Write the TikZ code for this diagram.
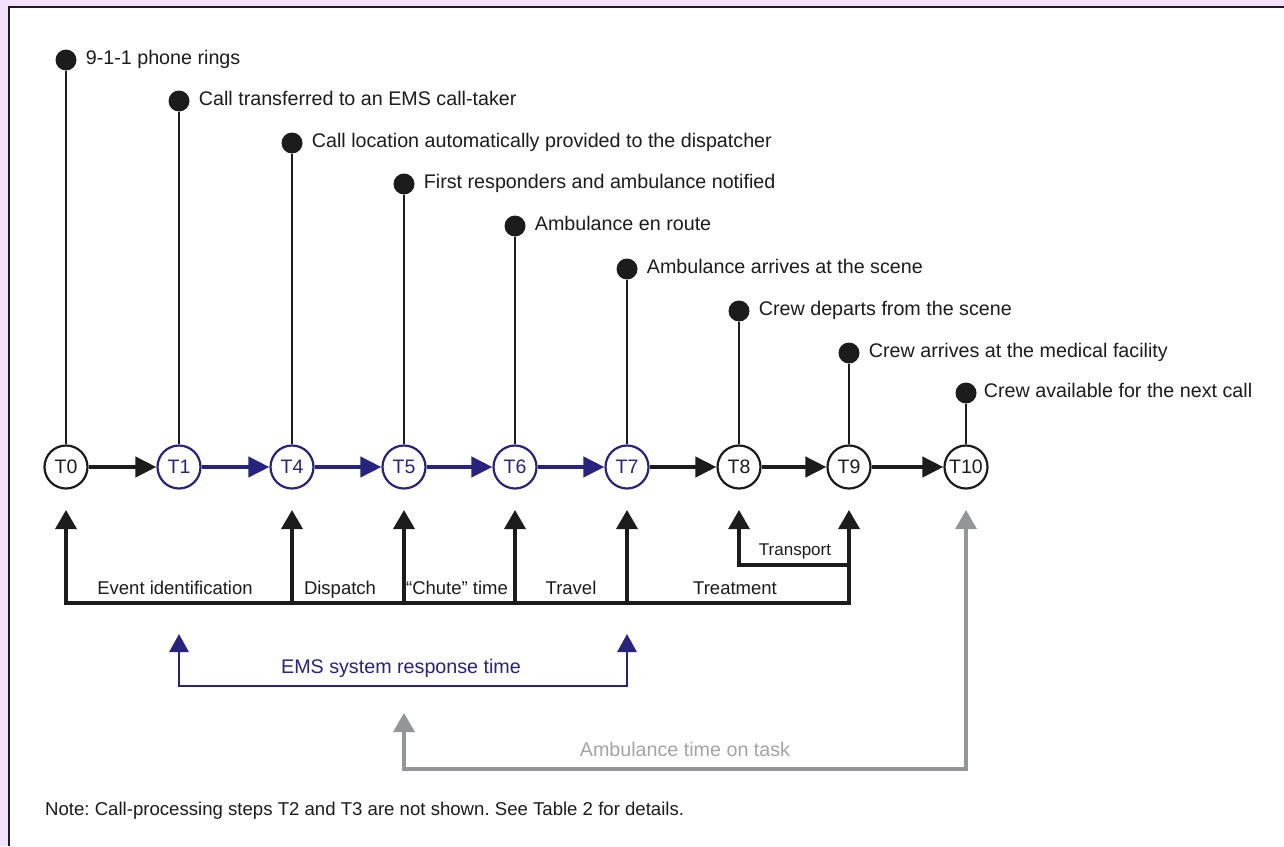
\documentclass[tikz,border=0pt]{standalone}
\usepackage{fontspec}
\setmainfont{Liberation Sans}
\usetikzlibrary{arrows.meta}
\definecolor{bgp}{HTML}{F3E1FB}
\definecolor{navy}{HTML}{27237F}
\definecolor{ggrey}{HTML}{939598}
\definecolor{tgrey}{HTML}{A3A4A6}
\definecolor{ink}{HTML}{1C1C1C}
\frenchspacing
\newcommand\lblfnt{\fontsize{19.7pt}{23pt}\selectfont}
\newcommand\brkfnt{\fontsize{18.5pt}{22pt}\selectfont}
\newcommand\trpfnt{\fontsize{17pt}{20pt}\selectfont}
\newcommand\notefnt{\fontsize{18.6pt}{22pt}\selectfont}
\newcommand\tfnt{\fontsize{19.5pt}{22pt}\selectfont}
\tikzset{
  tipv/.tip={Triangle[length=19pt,width=21pt]},
  tipb/.tip={Triangle[length=18pt,width=19pt]},
  tiph/.tip={Triangle[length=21pt,width=20pt]},
}
\begin{document}
\begin{tikzpicture}[x=1pt,y=-1pt,
  tnode/.style={circle,draw=ink,line width=2.2pt,minimum size=43pt,inner sep=0pt,font=\tfnt,text=ink,fill=white},
  bnode/.style={tnode,draw=navy,text=navy},
  dotn/.style={circle,fill=ink,minimum size=21pt,inner sep=0pt},
  stem/.style={draw=ink,line width=2.2pt},
  harr/.style={draw=ink,line width=4pt,-tiph},
  harrb/.style={harr,draw=navy},
  varr/.style={draw=ink,line width=3.6pt,line join=miter,-tipv},
  lab/.style={anchor=base west,inner sep=0pt,font=\lblfnt,text=ink},
  blab/.style={anchor=base,inner sep=0pt,font=\brkfnt,text=ink},
]
\useasboundingbox (0,0) rectangle (1284,846);
\fill[bgp] (0,0) rectangle (1284,846);
\fill[white] (9,7) rectangle (1284,846);
\draw[ink,line width=2.2pt] (9,846) -- (9,7) -- (1284,7);

% timeline nodes
\node[tnode] (T0)  at (66,467)  {T0};
\node[bnode] (T1)  at (179,467) {T1};
\node[bnode] (T4)  at (292,467) {T4};
\node[bnode] (T5)  at (404,467) {T5};
\node[bnode] (T6)  at (515,467) {T6};
\node[bnode] (T7)  at (627,467) {T7};
\node[tnode] (T8)  at (739,467) {T8};
\node[tnode] (T9)  at (849,467) {T9};
\node[tnode] (T10) at (966,467) {T10};

% dots
\node[dotn] (d0)  at (66,60)  {};
\node[dotn] (d1)  at (179,101) {};
\node[dotn] (d4)  at (292,143) {};
\node[dotn] (d5)  at (404,184) {};
\node[dotn] (d6)  at (515,226) {};
\node[dotn] (d7)  at (627,269) {};
\node[dotn] (d8)  at (739,311) {};
\node[dotn] (d9)  at (849,353) {};
\node[dotn] (d10) at (966,393) {};

\foreach \a/\b in {d0/T0,d1/T1,d4/T4,d5/T5,d6/T6,d7/T7,d8/T8,d9/T9,d10/T10}
  \draw[stem] (\a) -- (\b);

\node[lab] (l0)  at ([xshift=9pt,yshift=-4.5pt]d0.east)  {9-1-1 phone rings};
\node[lab] (l1)  at ([xshift=9pt,yshift=-4.5pt]d1.east)  {Call transferred to an EMS call-taker};
\node[lab] (l4)  at ([xshift=9pt,yshift=-4.5pt]d4.east)  {Call location automatically provided to the dispatcher};
\node[lab] (l5)  at ([xshift=9pt,yshift=-4.5pt]d5.east)  {First responders and ambulance notified};
\node[lab] (l6)  at ([xshift=9pt,yshift=-4.5pt]d6.east)  {Ambulance en route};
\node[lab] (l7)  at ([xshift=9pt,yshift=-4.5pt]d7.east)  {Ambulance arrives at the scene};
\node[lab] (l8)  at ([xshift=9pt,yshift=-4.5pt]d8.east)  {Crew departs from the scene};
\node[lab] (l9)  at ([xshift=9pt,yshift=-4.5pt]d9.east)  {Crew arrives at the medical facility};
\node[lab] (l10) at ([xshift=7pt,yshift=-4.5pt]d10.east) {Crew available for the next call};

% horizontal arrows
\draw[harr]  (T0) -- (T1);
\draw[harrb] (T1) -- (T4);
\draw[harrb] (T4) -- (T5);
\draw[harrb] (T5) -- (T6);
\draw[harrb] (T6) -- (T7);
\draw[harr]  (T7) -- (T8);
\draw[harr]  (T8) -- (T9);
\draw[harr]  (T9) -- (T10);

% interval bracket
\coordinate (a0) at (66,510);   \coordinate (c0) at (66,603);
\coordinate (a4) at (292,510);  \coordinate (c4) at (292,603);
\coordinate (a5) at (404,510);  \coordinate (c5) at (404,603);
\coordinate (a6) at (515,510);  \coordinate (c6) at (515,603);
\coordinate (a7) at (627,510);  \coordinate (c7) at (627,603);
\coordinate (a9) at (849,510);  \coordinate (c9) at (849,603);
\coordinate (a8) at (739,510);  \coordinate (k8) at (739,565); \coordinate (k9) at (849,565);

\draw[draw=ink,line width=3.4pt,line join=miter,tipv-tipv] (a0) -- (c0) -- (c9) -- (a9);
\foreach \t/\c in {a4/c4,a5/c5,a6/c6,a7/c7}
  \draw[varr] (\c) -- (\t);
\draw[varr,line width=3.2pt] (k9) -- (k8) -- (a8);

\node[blab] (ev) at (175,594) {Event identification};
\node[blab] (di) at (340,594) {Dispatch};
\node[blab] (ch) at (457,594) {“Chute” time};
\node[blab] (tr) at (571,594) {Travel};
\node[blab] (tm) at (735,594) {Treatment};
\node[blab,font=\trpfnt] (tp) at (795,555) {Transport};

% EMS system response time
\coordinate (e1) at (179,634); \coordinate (e1b) at (179,686);
\coordinate (e7) at (627,634); \coordinate (e7b) at (627,686);
\draw[draw=navy,line width=2.8pt,line join=miter,tipb-tipb] (e1) -- (e1b) -- (e7b) -- (e7);
\node[blab,font=\lblfnt,text=navy] (ems) at (401,673) {EMS system response time};

% Ambulance time on task
\coordinate (g5) at (404,713); \coordinate (g5b) at (404,769);
\coordinate (g10) at (966,510); \coordinate (g10b) at (966,769);
\draw[draw=ggrey,line width=3.2pt,line join=miter,tipv-tipv] (g5) -- (g5b) -- (g10b) -- (g10);
\node[blab,font=\lblfnt,text=tgrey] (amb) at (685,756) {Ambulance time on task};

% note
\node[anchor=base west,inner sep=0pt,font=\notefnt,text=ink] (note) at (45,815)
  {Note: Call-processing steps T2 and T3 are not shown. See Table 2 for details.};
\end{tikzpicture}
\end{document}
